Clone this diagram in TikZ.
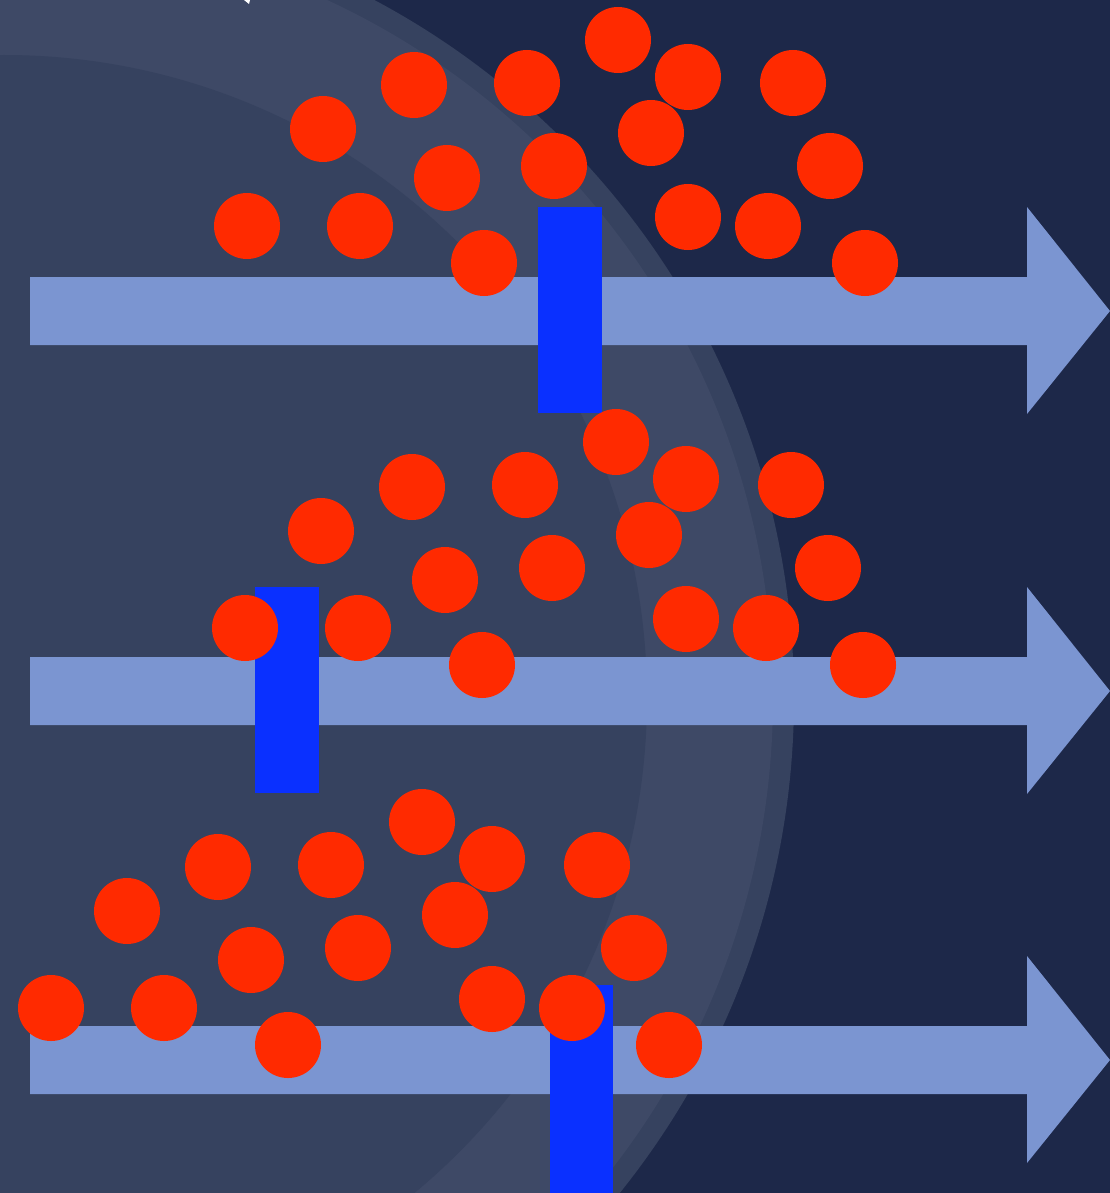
\documentclass[tikz,border=0pt]{standalone}
\definecolor{night}{HTML}{1D2849}
\definecolor{haloout}{HTML}{36425F}
\definecolor{halomid}{HTML}{3E4966}
\definecolor{haloin}{HTML}{36425F}
\definecolor{lane}{HTML}{7B95D1}
\definecolor{gate}{HTML}{0A30FF}
\definecolor{ion}{HTML}{FF2A00}
\begin{document}
\begin{tikzpicture}[x=1pt,y=-1pt,
  dot/.style={circle,fill=ion,draw=none,minimum size=66pt,inner sep=0pt},
  gatebox/.style={rectangle,fill=gate,draw=none,inner sep=0pt,minimum width=64pt,minimum height=206pt},
  lanebar/.style={fill=lane,draw=none}]
\useasboundingbox (0,0) rectangle (1110,1193);
\clip (0,0) rectangle (1110,1193);

% background and the soft concentric halo
\fill[night] (0,0) rectangle (1110,1193);
\fill[haloout] (4,698) circle[radius=790pt];
\fill[halomid] (4,698) circle[radius=769pt];
\fill[haloin] (4,698) circle[radius=643pt];
\fill[white] (244,0) -- (250,0) -- (249,4) -- cycle;

% three block arrows (lanes)
\foreach \cy in {311,691,1060}{
  \fill[lanebar] (30,\cy-34) -- (1027,\cy-34) -- (1027,\cy-104) -- (1110,\cy)
    -- (1027,\cy+103) -- (1027,\cy+34) -- (30,\cy+34) -- cycle;
}

% gates across the lanes
\node[gatebox] (g1) at (569.5,310) {};
\node[gatebox] (g2) at (287,690) {};
\node[gatebox,minimum width=63pt,minimum height=208pt] (g3) at (581.5,1089) {};

% particle clouds, one above each lane
\def\cloud{618/40,414/85,527/83,688/77,793/83,323/129,651/133,447/178,554/166,830/166,247/226,360/226,688/217,768/226,484/263,865/263}
\foreach \px/\py [count=\i] in \cloud {
  \node[dot] (a\i) at (\px,\py) {};
}
\begin{scope}[shift={(-2,402)}]
\foreach \px/\py [count=\i] in \cloud {
  \node[dot] (b\i) at (\px,\py) {};
}
\end{scope}
\begin{scope}[shift={(-196,782)}]
\foreach \px/\py [count=\i] in \cloud {
  \node[dot] (c\i) at (\px,\py) {};
}
\end{scope}
\end{tikzpicture}
\end{document}
